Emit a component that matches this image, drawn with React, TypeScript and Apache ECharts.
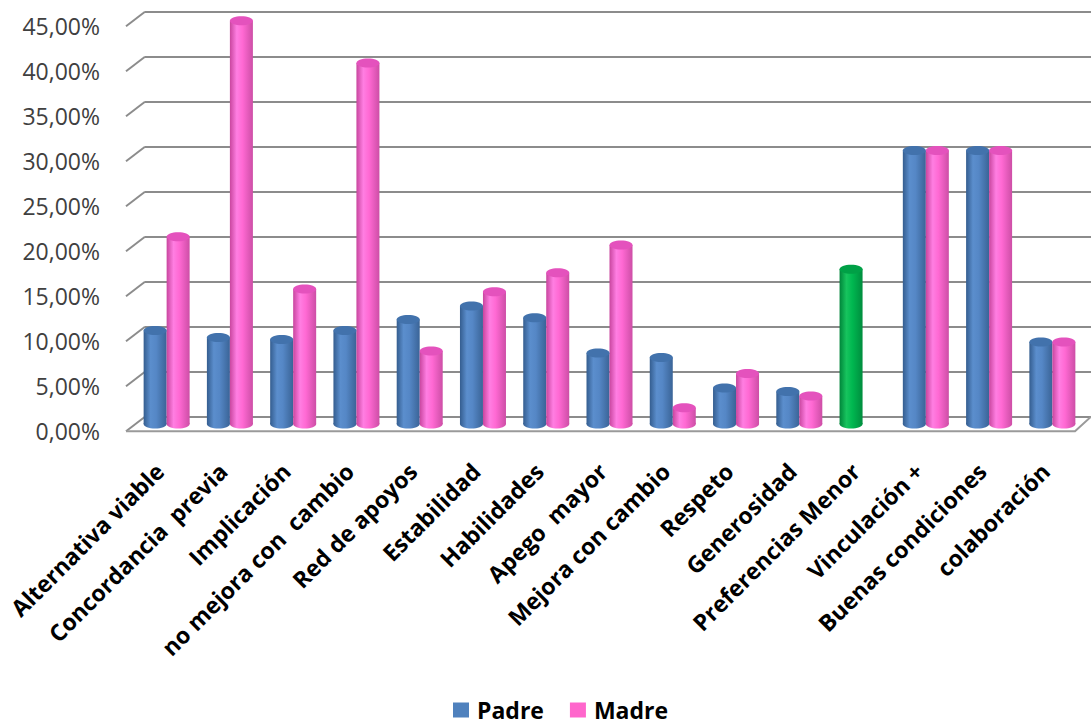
import React, { useEffect, useRef } from 'react';
import * as echarts from 'echarts';

const categories = [
  'Alternativa viable',
  'Concordancia  previa',
  'Implicación',
  'no mejora con  cambio',
  'Red de apoyos',
  'Estabilidad',
  'Habilidades',
  'Apego  mayor',
  'Mejora con cambio',
  'Respeto',
  'Generosidad',
  'Preferencias Menor',
  'Vinculación +',
  'Buenas condiciones',
  'colaboración',
];
const padre = [10.4, 9.6, 9.4, 10.4, 11.6, 13.1, 11.8, 7.9, 7.4, 4.0, 3.6, 17.2, 30.4, 30.4, 9.1];
const madre: (number | null)[] = [20.8, 44.8, 15.0, 40.1, 8.1, 14.7, 16.8, 19.9, 1.8, 5.6, 3.1, null, 30.4, 30.4, 9.1];
const yTicks = [0, 5, 10, 15, 20, 25, 30, 35, 40, 45];
const highlightCategory = 'Preferencias Menor';

const FONT = "'Open Sans', 'Noto Sans', sans-serif";

function grad(stops: [number, string][]) {
  return new echarts.graphic.LinearGradient(0, 0, 1, 0, stops.map(([offset, color]) => ({ offset, color })));
}
const blueStops: [number, string][] = [[0, '#345d8f'], [0.3, '#5b8ecd'], [0.55, '#5587c6'], [1, '#3a6497']];
const pinkStops: [number, string][] = [[0, '#c8459e'], [0.3, '#ff7ee2'], [0.55, '#ff69d3'], [1, '#cd4ea6']];
const greenStops: [number, string][] = [[0, '#00853a'], [0.3, '#17c45e'], [0.55, '#00b850'], [1, '#008d3e']];
const capColors = { blue: '#4272ac', pink: '#e452bd', green: '#00a046' };

export default function App() {
  const ref = useRef<HTMLDivElement>(null);
  useEffect(() => {
    if (!ref.current) return;
    const chart = echarts.init(ref.current, undefined, { renderer: 'svg' });
    const hi = categories.indexOf(highlightCategory);
    const BW = 23;
    const option: any = {
      animation: false,
      backgroundColor: '#ffffff',
      legend: {
        data: [
          { name: 'Padre', itemStyle: { color: '#4F81BD' } },
          { name: 'Madre', itemStyle: { color: '#FF66CC' } },
        ],
        left: 453,
        top: 698,
        padding: 0,
        icon: 'rect',
        itemWidth: 16,
        itemHeight: 15,
        itemGap: 26,
        textStyle: {
          fontSize: 23,
          lineHeight: 24,
          fontWeight: 'bold',
          color: '#000',
          fontFamily: FONT,
          padding: [0, 0, 0, 3],
        },
      },
      grid: [
        { left: 145, right: 0, top: 11.7, height: 405 },
        { left: 135, right: 7, top: 19, height: 405 },
        { left: 126, right: 16, top: 26.3, height: 405 },
      ],
      xAxis: [
        { type: 'value', gridIndex: 0, min: 0, max: 1, show: false },
        {
          type: 'category',
          gridIndex: 1,
          data: categories,
          axisLine: { show: false },
          axisTick: { show: false },
          axisLabel: {
            interval: 0,
            rotate: 45,
            margin: 36,
            padding: [0, 10, 0, 0],
            fontSize: 23,
            fontWeight: 'bold',
            color: '#000',
            fontFamily: FONT,
          },
        },
        { type: 'value', gridIndex: 2, min: 0, max: 1, show: false },
      ],
      yAxis: [
        {
          type: 'value',
          gridIndex: 0,
          min: 0,
          max: 45,
          interval: 5,
          axisLine: { show: false },
          axisTick: { show: false },
          axisLabel: { show: false },
          splitLine: { show: true, lineStyle: { color: '#8c8c8c', width: 2 } },
        },
        { type: 'value', gridIndex: 1, min: 0, max: 45, interval: 5, show: false },
        {
          type: 'value',
          gridIndex: 2,
          min: 0,
          max: 45,
          interval: 5,
          axisLine: { show: false },
          axisTick: { show: false },
          splitLine: { show: false },
          axisLabel: {
            margin: 26,
            fontSize: 23,
            color: '#404040',
            fontFamily: FONT,
            formatter: (v: number) => v.toFixed(2).replace('.', ',') + '%',
          },
        },
      ],
      series: [
        {
          type: 'custom',
          name: 'walls',
          xAxisIndex: 0,
          yAxisIndex: 0,
          z: 1,
          silent: true,
          data: yTicks.map((v) => [0, v]),
          renderItem: (params: any, api: any) => {
            const v = api.value(1);
            const p = api.coord([0, v]);
            const dx = -19;
            const dy = 14.5;
            const children: any[] = [
              {
                type: 'line',
                shape: { x1: p[0], y1: p[1], x2: p[0] + dx, y2: p[1] + dy },
                style: { stroke: '#8c8c8c', lineWidth: 2 },
              },
            ];
            if (v === 0) {
              const r = api.coord([1, 0]);
              children.push({
                type: 'polyline',
                shape: {
                  points: [
                    [p[0] + dx, p[1] + dy],
                    [r[0] - 16, r[1] + dy],
                    [r[0], r[1]],
                  ],
                },
                style: { stroke: '#9a9a9a', lineWidth: 2, fill: null },
              });
            }
            return { type: 'group', children };
          },
        },
        {
          type: 'bar',
          name: 'Padre',
          xAxisIndex: 1,
          yAxisIndex: 1,
          barWidth: BW,
          barGap: '0%',
          itemStyle: { color: grad(blueStops) },
          data: padre.map((v, i) => (i === hi ? { value: v, itemStyle: { color: grad(greenStops) } } : v)),
        },
        {
          type: 'bar',
          name: 'Madre',
          xAxisIndex: 1,
          yAxisIndex: 1,
          barWidth: BW,
          barGap: '0%',
          itemStyle: { color: grad(pinkStops) },
          data: madre.map((v) => (v == null ? '-' : v)),
        },
        {
          type: 'custom',
          name: 'caps',
          xAxisIndex: 1,
          yAxisIndex: 1,
          z: 3,
          silent: true,
          data: categories.map((c, i) => [i, padre[i], madre[i] == null ? NaN : madre[i]]),
          renderItem: (params: any, api: any) => {
            const cat = api.value(0);
            const children: any[] = [];
            [1, 2].forEach((dim, k) => {
              const v = api.value(dim);
              if (v == null || isNaN(v)) return;
              const top = api.coord([cat, v]);
              const base = api.coord([cat, 0]);
              const cx = top[0] + (k === 0 ? -BW / 2 : BW / 2);
              const isGreen = k === 0 && cat === hi;
              const stops = isGreen ? greenStops : k === 0 ? blueStops : pinkStops;
              const cap = isGreen ? capColors.green : k === 0 ? capColors.blue : capColors.pink;
              children.push({
                type: 'ellipse',
                shape: { cx, cy: base[1], rx: BW / 2, ry: 4.5 },
                style: { fill: grad(stops) },
              });
              children.push({
                type: 'ellipse',
                shape: { cx, cy: top[1], rx: BW / 2, ry: 4.5 },
                style: { fill: cap },
              });
            });
            return { type: 'group', children };
          },
        },
      ],
    };
    chart.setOption(option);
    return () => chart.dispose();
  }, []);
  return (
    <div
      ref={ref}
      style={{ position: 'absolute', left: 0, top: 0, width: 1091, height: 725, background: '#fff' }}
    />
  );
}
